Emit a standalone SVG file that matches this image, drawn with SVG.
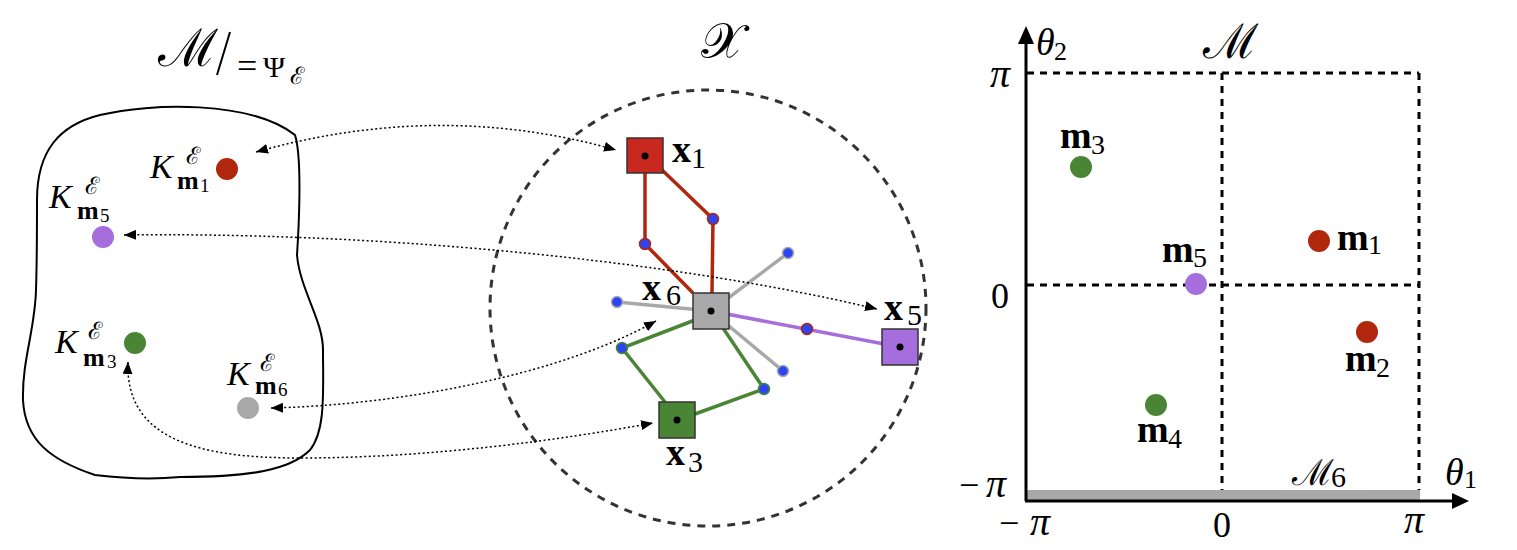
<svg xmlns="http://www.w3.org/2000/svg" width="1517" height="550" viewBox="0 0 1517 550">
<style>
.serif{font-family:"Liberation Serif","DejaVu Serif",serif;fill:#000}
.it{font-style:italic}
.b{font-weight:bold}
.cal{font-family:"DejaVu Serif","Liberation Serif",serif;fill:#000}
.dot{stroke:#000;stroke-width:1.5;stroke-dasharray:2 2.5;fill:none}
.grid{stroke:#000;stroke-width:3;stroke-dasharray:7 6;fill:none}
.sq{stroke:#333;stroke-width:1.5}
.red{stroke:#B0270E;stroke-width:3.5;fill:none}
.grn{stroke:#4A8535;stroke-width:3.5;fill:none}
.gry{stroke:#A8A8A8;stroke-width:3.5;fill:none}
.pur{stroke:#A56EDC;stroke-width:3.5;fill:none}
.bd{fill:#2B45F5;stroke-width:1.5}
</style>
<defs>
<marker id="ah" markerUnits="userSpaceOnUse" markerWidth="12" markerHeight="10" refX="12" refY="5" orient="auto-start-reverse" viewBox="0 0 12 10">
<path d="M0,0 L12,5 L0,10 z" fill="#000"/>
</marker>
</defs>

<!-- Left panel -->
<g id="quotient-space">
<path d="M37 200 C37 150 60 125 100 115 C150 103 250 100 295 135 C303 160 298 240 297 255 C300 290 323 320 323 350 C323 390 326 430 310 450 C290 470 250 477 180 477 C150 480 120 478 95 475 C50 460 25 440 23 400 C22 360 35 330 36 290 C37 260 37 230 37 200 Z" fill="none" stroke="#000" stroke-width="2"/>
<text class="cal" x="158" y="66" font-size="52">ℳ</text>
<line x1="230" y1="32" x2="217" y2="75" stroke="#000" stroke-width="2"/>
<text class="serif" x="237" y="78" font-size="36">=</text>
<text class="serif" x="263" y="77" font-size="30">Ψ</text>
<text class="cal" x="290" y="84" font-size="24">ℰ</text>
</g>
<g id="K-m1">
<circle cx="227" cy="169" r="11" fill="#B0270E"/>
<text class="serif it" x="150" y="178" font-size="34">K</text>
<text class="cal" x="186" y="164" font-size="24">ℰ</text>
<text class="serif b" x="177" y="189" font-size="26">m</text>
<text class="serif" x="200" y="192" font-size="19">1</text>
</g>
<g id="K-m5">
<circle cx="103" cy="237" r="11" fill="#A56EDC"/>
<text class="serif it" x="49" y="208" font-size="34">K</text>
<text class="cal" x="85" y="194" font-size="24">ℰ</text>
<text class="serif b" x="77" y="219" font-size="26">m</text>
<text class="serif" x="100" y="222" font-size="19">5</text>
</g>
<g id="K-m3">
<circle cx="135" cy="343" r="11" fill="#4A8535"/>
<text class="serif it" x="55" y="353" font-size="34">K</text>
<text class="cal" x="88" y="339" font-size="24">ℰ</text>
<text class="serif b" x="83" y="366" font-size="26">m</text>
<text class="serif" x="107" y="368" font-size="19">3</text>
</g>
<g id="K-m6">
<circle cx="248" cy="408" r="11" fill="#A8A8A8"/>
<text class="serif it" x="227" y="385" font-size="34">K</text>
<text class="cal" x="260" y="371" font-size="24">ℰ</text>
<text class="serif b" x="255" y="394" font-size="26">m</text>
<text class="serif" x="278" y="396" font-size="19">6</text>
</g>

<!-- Center panel -->
<g id="X-space">
<circle cx="708" cy="308" r="218" fill="none" stroke="#333" stroke-width="3" stroke-dasharray="8 7"/>
<text class="cal" x="722" y="58" font-size="50" text-anchor="middle">𝒳</text>
</g>
<g id="graph-edges">
<polyline class="red" points="645,160 645,244 693,293"/>
<polyline class="red" points="660,168 713,219 712,293"/>
<line class="gry" x1="711" y1="311" x2="788" y2="253"/>
<line class="gry" x1="711" y1="311" x2="617" y2="302"/>
<line class="gry" x1="711" y1="311" x2="783" y2="371"/>
<line class="pur" x1="711" y1="311" x2="900" y2="347"/>
<polyline class="grn" points="695,320 622,348 665,402"/>
<polyline class="grn" points="723,328 764,389 695,414"/>
<circle class="bd" cx="645" cy="244" r="5.5" stroke="#B0270E"/>
<circle class="bd" cx="713" cy="219" r="5.5" stroke="#B0270E"/>
<circle class="bd" cx="788" cy="253" r="5.5" stroke="#A8A8A8"/>
<circle class="bd" cx="617" cy="302" r="5.5" stroke="#A8A8A8"/>
<circle class="bd" cx="783" cy="371" r="5.5" stroke="#A8A8A8"/>
<circle class="bd" cx="807" cy="329" r="5.5" stroke="#B0270E"/>
<circle class="bd" cx="622" cy="348" r="5.5" stroke="#4A8535"/>
<circle class="bd" cx="764" cy="389" r="5.5" stroke="#4A8535"/>
</g>
<g id="x1">
<rect class="sq" x="627" y="138" width="36" height="35" fill="#C8281E"/>
<circle cx="645" cy="156" r="3.5" fill="#000"/>
<text class="serif b" x="672" y="162" font-size="38">x</text>
<text class="serif" x="691" y="168" font-size="30">1</text>
</g>
<g id="x6">
<rect class="sq" x="693" y="293" width="36" height="36" fill="#A8A8A8"/>
<circle cx="711" cy="311" r="3.5" fill="#000"/>
<text class="serif b" x="642" y="300" font-size="38">x</text>
<text class="serif" x="666" y="305" font-size="30">6</text>
</g>
<g id="x5">
<rect class="sq" x="882" y="329" width="36" height="36" fill="#A56EDC"/>
<circle cx="900" cy="347" r="3.5" fill="#000"/>
<text class="serif b" x="884" y="320" font-size="38">x</text>
<text class="serif" x="907" y="325" font-size="30">5</text>
</g>
<g id="x3">
<rect class="sq" x="659" y="402" width="36" height="36" fill="#4A8535"/>
<circle cx="677" cy="420" r="3.5" fill="#000"/>
<text class="serif b" x="666" y="465" font-size="38">x</text>
<text class="serif" x="688" y="472" font-size="30">3</text>
</g>

<!-- Connectors -->
<g id="connectors">
<path class="dot" d="M256 152 Q440 100 616 150" marker-start="url(#ah)" marker-end="url(#ah)"/>
<path class="dot" d="M124 235 C350 232 650 255 877 309" marker-start="url(#ah)" marker-end="url(#ah)"/>
<path class="dot" d="M271 408 C400 405 560 375 656 321" marker-start="url(#ah)" marker-end="url(#ah)"/>
<path class="dot" d="M128 362 C125 440 200 458 300 458 C430 458 560 440 653 423" marker-start="url(#ah)" marker-end="url(#ah)"/>
</g>

<!-- Right panel -->
<g id="M-space">
<rect x="1027" y="490" width="393" height="10" fill="#A8A8A8"/>
<line class="grid" x1="1027" y1="73" x2="1419" y2="73"/>
<line class="grid" x1="1027" y1="285" x2="1419" y2="285"/>
<line class="grid" x1="1419" y1="73" x2="1419" y2="490"/>
<line class="grid" x1="1222" y1="73" x2="1222" y2="490"/>
<line x1="1026" y1="501" x2="1026" y2="42" stroke="#000" stroke-width="3"/>
<path d="M1018 44 L1026 26 L1034 44 z" fill="#000"/>
<line x1="1025" y1="501" x2="1454" y2="501" stroke="#000" stroke-width="3"/>
<path d="M1452 493 L1469 501 L1452 509 z" fill="#000"/>
<text class="cal" x="1230" y="58" font-size="48" text-anchor="middle">ℳ</text>
<text class="serif it" x="1036" y="55" font-size="38">θ</text>
<text class="serif" x="1054" y="60" font-size="26">2</text>
<text class="serif it" x="1445" y="485" font-size="38">θ</text>
<text class="serif" x="1464" y="488" font-size="26">1</text>
<text class="serif it" x="990" y="87" font-size="40">π</text>
<text class="serif" x="991" y="308" font-size="36">0</text>
<text class="serif" x="959" y="497" font-size="36">−</text>
<text class="serif it" x="986" y="497" font-size="40">π</text>
<text class="serif" x="999" y="535" font-size="36">−</text>
<text class="serif it" x="1030" y="535" font-size="40">π</text>
<text class="serif" x="1213" y="537" font-size="36">0</text>
<text class="serif it" x="1404" y="533" font-size="40">π</text>
<text class="cal" x="1292" y="485" font-size="36">ℳ</text>
<text class="serif" x="1331" y="487" font-size="30">6</text>
</g>
<g id="m1">
<circle cx="1319" cy="241" r="11" fill="#B0270E"/>
<text class="serif b" x="1337" y="250" font-size="38">m</text>
<text class="serif" x="1368" y="254" font-size="28">1</text>
</g>
<g id="m2">
<circle cx="1367" cy="332" r="11" fill="#B0270E"/>
<text class="serif b" x="1345" y="371" font-size="38">m</text>
<text class="serif" x="1376" y="377" font-size="28">2</text>
</g>
<g id="m3">
<circle cx="1081" cy="167" r="11" fill="#4A8535"/>
<text class="serif b" x="1060" y="148" font-size="38">m</text>
<text class="serif" x="1091" y="154" font-size="28">3</text>
</g>
<g id="m4">
<circle cx="1156" cy="405" r="11" fill="#4A8535"/>
<text class="serif b" x="1137" y="442" font-size="38">m</text>
<text class="serif" x="1168" y="448" font-size="28">4</text>
</g>
<g id="m5">
<circle cx="1196" cy="284" r="11" fill="#A56EDC"/>
<text class="serif b" x="1162" y="262" font-size="38">m</text>
<text class="serif" x="1193" y="267" font-size="28">5</text>
</g>
</svg>
